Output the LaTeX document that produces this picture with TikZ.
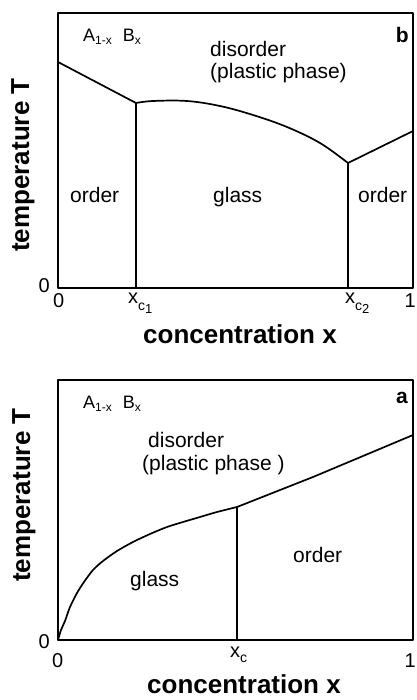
\documentclass[tikz,border=0pt]{standalone}
\usepackage{fontspec}
\setmainfont{Liberation Sans}
\newcommand{\lowsub}[3]{\raisebox{-#1pt}{\fontsize{#2}{#2}\selectfont #3}}
\begin{document}
\begin{tikzpicture}[x=1pt,y=-1pt,line join=round,line cap=round,
  frame/.style={line width=1.7pt},
  bnd/.style={line width=1.7pt},
  lab/.style={inner sep=0pt,font=\fontsize{21}{21}\selectfont},
  axl/.style={inner sep=0pt,font=\fontsize{26}{26}\selectfont\bfseries},
  tick/.style={inner sep=0pt,font=\fontsize{20}{20}\selectfont},
  pan/.style={inner sep=0pt,font=\fontsize{21}{21}\selectfont\bfseries},
  comp/.style={inner sep=0pt,font=\fontsize{18}{18}\selectfont}]
\useasboundingbox (0,0) rectangle (416,700);

% ---------------- panel b (top) ----------------
\coordinate (bTL) at (58,13);
\coordinate (bBR) at (413,288);
\draw[frame] (bTL) rectangle (bBR);
\coordinate (bL) at (58,62);
\coordinate (bA) at (136,103);
\coordinate (bA0) at (136,288);
\coordinate (bB) at (348,163);
\coordinate (bB0) at (348,288);
\coordinate (bR) at (413,131);
\draw[bnd] (bL) -- (bA) -- (bA0);
\draw[bnd] plot[smooth,tension=0.6] coordinates {(136,103) (153,101) (187,101) (220,106) (253,115) (287,127) (320,143) (348,163)};
\draw[bnd] (bR) -- (bB) -- (bB0);

\node[comp,anchor=base west] (bcomp) at (83,42) {A\lowsub{3}{12}{1-x}\hspace{11pt}B\lowsub{3}{12}{x}};
\node[pan,anchor=base east] (bpan) at (409,43) {b};
\node[lab,anchor=base west] (bdis) at (210,57) {disorder};
\node[lab,anchor=base west] (bpla) at (210,79) {(plastic phase)};
\node[lab,anchor=base west] (bord1) at (70,203) {order};
\node[lab,anchor=base west] (bgla) at (213,203) {glass};
\node[lab,anchor=base west] (bord2) at (358,203) {order};
\node[tick,anchor=base east] (by0) at (50,292) {0};
\node[tick,anchor=base west] (bx0) at (53,307) {0};
\node[tick,anchor=base west] (bxc1) at (128,303) {x\lowsub{7}{14}{c\lowsub{3}{13}{1}}};
\node[tick,anchor=base west] (bxc2) at (345,303) {x\lowsub{7}{14}{c\lowsub{3}{13}{2}}};
\node[tick,anchor=base east] (bx1) at (416,307) {1};
\node[axl,anchor=base west] (bxl) at (143,343) {concentration x};
\node[axl,anchor=base,rotate=90] (byl) at (29,165) {temperature T};

% ---------------- panel a (bottom) ----------------
\coordinate (aTL) at (58,380);
\coordinate (aBR) at (413,640);
\draw[frame] (aTL) rectangle (aBR);
\coordinate (aO) at (58,640);
\coordinate (aC) at (237,507);
\coordinate (aC0) at (237,640);
\coordinate (aM) at (313,477);
\coordinate (aR) at (413,435);
\draw[bnd] plot[smooth,tension=0.5] coordinates {(58,640) (61,630) (65,621) (70,607) (77,593) (84,582) (93,570) (103,561) (117,551) (133,542) (150,534) (167,527) (183,522) (200,517) (217,512) (237,507)};
\draw[bnd] (aR) -- (aM) -- (aC) -- (aC0);

\node[comp,anchor=base west] (acomp) at (83,408) {A\lowsub{3}{12}{1-x}\hspace{11pt}B\lowsub{3}{12}{x}};
\node[pan,anchor=base east] (apan) at (408,403) {a};
\node[lab,anchor=base west] (adis) at (148,447) {disorder};
\node[lab,anchor=base west] (apla) at (142,470) {(plastic phase )};
\node[lab,anchor=base west] (agla) at (130,586) {glass};
\node[lab,anchor=base west] (aord) at (293,562) {order};
\node[tick,anchor=base east] (ay0) at (50,648) {0};
\node[tick,anchor=base west] (ax0) at (52,667) {0};
\node[tick,anchor=base west] (axc) at (230,657) {x\lowsub{5}{14}{c}};
\node[tick,anchor=base east] (ax1) at (416,667) {1};
\node[axl,anchor=base west] (axl) at (147,693) {concentration x};
\node[axl,anchor=base,rotate=90] (ayl) at (30,495) {temperature T};
\end{tikzpicture}
\end{document}
